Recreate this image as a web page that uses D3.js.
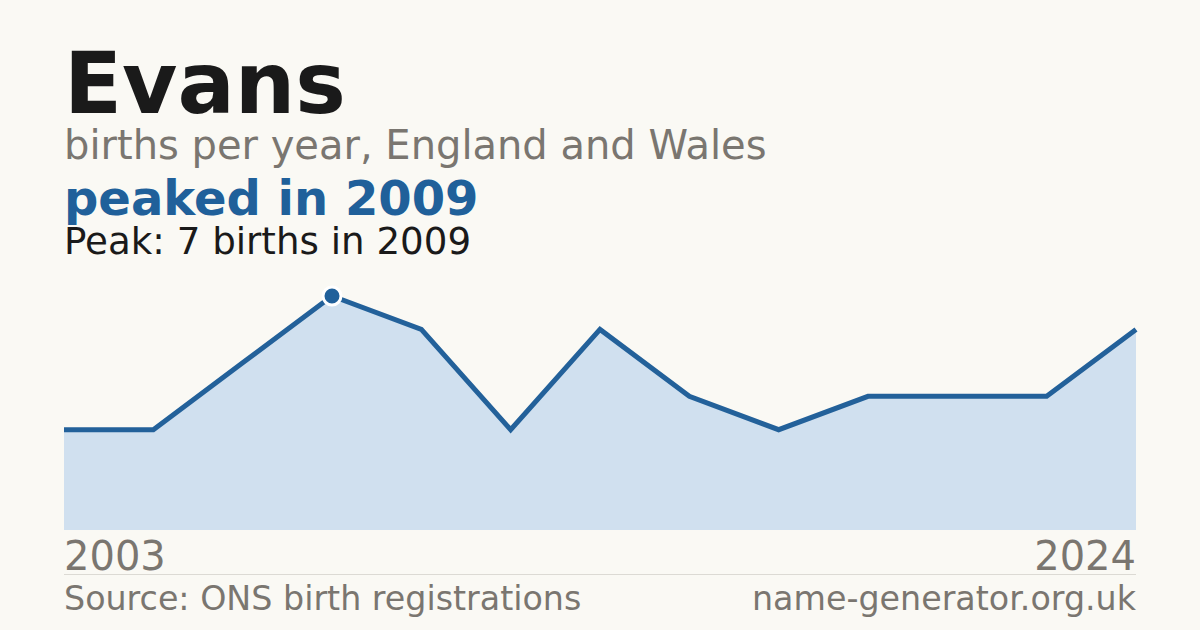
<!DOCTYPE html>
<html>
<head>
<meta charset="utf-8">
<script src="https://cdn.jsdelivr.net/npm/d3@7"></script>
<style>
  html, body { margin: 0; padding: 0; background: #faf9f4; }
  svg { display: block; font-family: "DejaVu Sans", sans-serif; }
</style>
</head>
<body>
<svg id="chart" width="1200" height="630"></svg>
<script>
const years = [2003, 2005, 2007, 2009, 2010, 2012, 2014, 2015, 2017, 2019, 2020, 2022, 2024];
const births = [3, 3, 5, 7, 6, 3, 6, 4, 3, 4, 4, 4, 6];
const axisLabels = ["2003", "2024"];
const peakYear = 2009;
const peakValue = 7;

const W = 1200, H = 630;
const plotLeft = 64, plotRight = 1136, plotBottom = 530, plotTop = 296;
const svg = d3.select("#chart");
svg.append("rect").attr("width", W).attr("height", H).attr("fill", "#faf9f4");

const x = d3.scalePoint().domain(years).range([plotLeft, plotRight]);
const y = d3.scaleLinear().domain([0, peakValue]).range([plotBottom, plotTop]);

const data = years.map((yr, i) => ({ year: yr, v: births[i] }));

svg.append("path")
  .datum(data)
  .attr("fill", "#d0e0ef")
  .attr("d", d3.area().x(d => x(d.year)).y0(plotBottom).y1(d => y(d.v)));

svg.append("path")
  .datum(data)
  .attr("fill", "none")
  .attr("stroke", "#23619a")
  .attr("stroke-width", 5)
  .attr("stroke-linejoin", "miter")
  .attr("d", d3.line().x(d => x(d.year)).y(d => y(d.v)));

svg.append("circle")
  .attr("cx", x(peakYear)).attr("cy", y(peakValue)).attr("r", 9)
  .attr("fill", "#20609a").attr("stroke", "#ffffff").attr("stroke-width", 3);

// Titles
svg.append("text").attr("x", 64).attr("y", 113)
  .attr("font-size", 85).attr("font-weight", "bold").attr("fill", "#1a1a1a").text("Evans");
svg.append("text").attr("x", 64).attr("y", 159)
  .attr("font-size", 40).attr("fill", "#7a7670").text("births per year, England and Wales");
svg.append("text").attr("x", 64).attr("y", 215)
  .attr("font-size", 48).attr("font-weight", "bold").attr("fill", "#20609a").text("peaked in 2009");
svg.append("text").attr("x", 64).attr("y", 254)
  .attr("font-size", 37.2).attr("fill", "#1a1a1a").text("Peak: " + peakValue + " births in " + peakYear);

// Axis labels
svg.append("text").attr("x", plotLeft).attr("y", 570)
  .attr("font-size", 40).attr("fill", "#7a7670").text(axisLabels[0]);
svg.append("text").attr("x", plotRight).attr("y", 570).attr("text-anchor", "end")
  .attr("font-size", 40).attr("fill", "#7a7670").text(axisLabels[1]);

// Separator
svg.append("line").attr("x1", plotLeft).attr("x2", plotRight).attr("y1", 574.5).attr("y2", 574.5)
  .attr("stroke", "#dcdad4").attr("stroke-width", 1);

// Footer
svg.append("text").attr("x", plotLeft).attr("y", 610)
  .attr("font-size", 33.3).attr("fill", "#7a7670").text("Source: ONS birth registrations");
svg.append("text").attr("x", plotRight).attr("y", 610).attr("text-anchor", "end")
  .attr("font-size", 33.3).attr("fill", "#7a7670").text("name-generator.org.uk");
</script>
</body>
</html>
